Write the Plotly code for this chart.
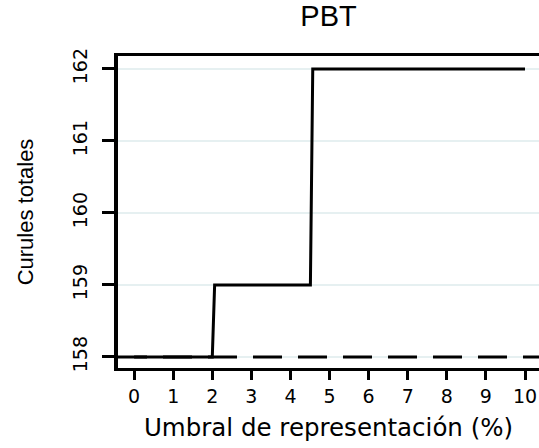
import plotly.graph_objects as go

# Data
umbral = [0, 2.0, 2.06, 4.51, 4.57, 10]          # threshold (%)
curules = [158, 158, 159, 159, 162, 162]          # total seats
referencia = 158                                    # dashed reference level
x_ticks = [0, 1, 2, 3, 4, 5, 6, 7, 8, 9, 10]
y_ticks = [158, 159, 160, 161, 162]

fig = go.Figure()
fig.add_trace(go.Scatter(
    x=umbral, y=curules, mode="lines",
    line=dict(color="black", width=3),
    showlegend=False, hoverinfo="skip",
))
fig.add_hline(y=referencia, line=dict(color="black", width=2.8, dash="29px,16px"), layer="above")

fig.update_layout(
    width=539, height=448,
    margin=dict(l=118, r=0, t=56, b=80, autoexpand=False),
    paper_bgcolor="white", plot_bgcolor="white",
    title=dict(text="PBT", x=0.5, xref="paper", xanchor="center",
               y=1, yref="container", yanchor="top", pad=dict(t=6), automargin=False,
               font=dict(family="Liberation Sans, Arial, sans-serif", size=29, color="black")),
    xaxis=dict(
        range=[-0.412, 10.358], tickvals=x_ticks, ticktext=[str(v) for v in x_ticks],
        showgrid=False, zeroline=False, automargin=False,
        showline=True, linecolor="black", linewidth=3, mirror=True,
        ticks="outside", ticklen=9, tickwidth=2.8, tickcolor="black",
        tickfont=dict(family="DejaVu Sans, sans-serif", size=19, color="black"),
        title=dict(text="Umbral de representación (%)", standoff=14,
                   font=dict(family="DejaVu Sans, sans-serif", size=24.5, color="black")),
    ),
    yaxis=dict(
        range=[157.847, 162.18], tickvals=y_ticks, ticktext=[str(v) for v in y_ticks],
        showgrid=True, gridcolor="#e6f0f1", gridwidth=1.6, zeroline=False, automargin=False,
        showline=True, linecolor="black", linewidth=3.5,
        ticks="outside", ticklen=12, tickwidth=2.8, tickcolor="black",
        tickangle=-90, ticklabelstandoff=8,
        tickfont=dict(family="DejaVu Sans, sans-serif", size=19, color="black"),
        title=dict(text="Curules totales", standoff=30,
                   font=dict(family="Liberation Sans, Arial, sans-serif", size=22, color="black")),
    ),
)

fig.write_html("out.html", config={"displayModeBar": False},
               post_script="document.body.style.margin='0';")
